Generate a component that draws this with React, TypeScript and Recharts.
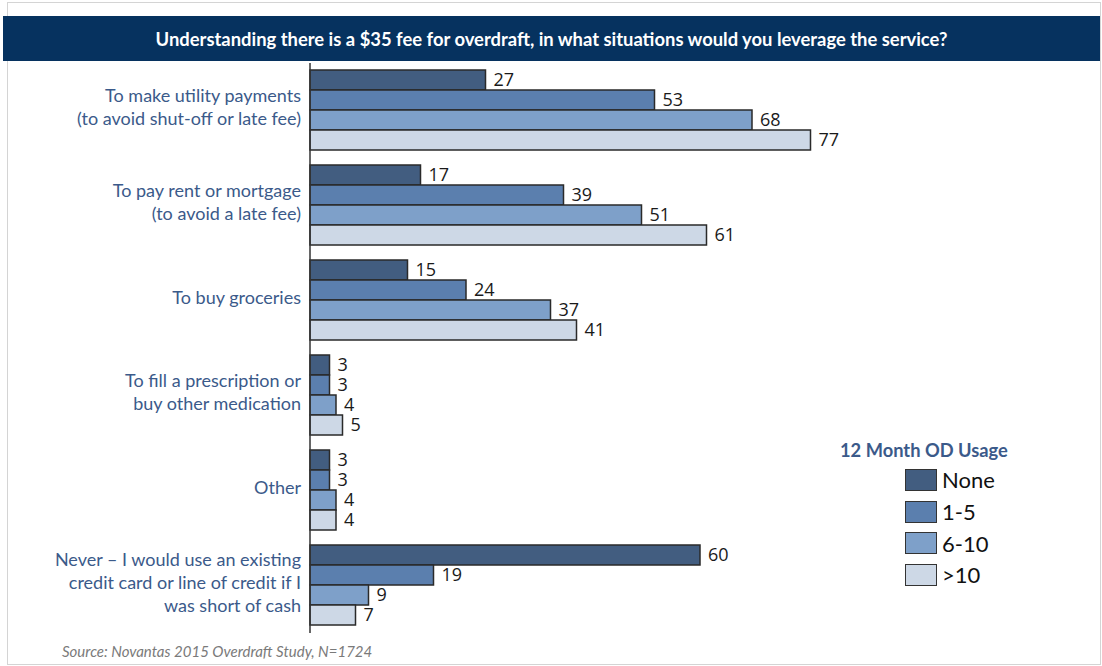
import React from "react";
import { BarChart, Bar, XAxis, YAxis, LabelList } from "recharts";

const categories = [
  "To make utility payments\n(to avoid shut-off or late fee)",
  "To pay rent or mortgage\n(to avoid a late fee)",
  "To buy groceries",
  "To fill a prescription or\nbuy other medication",
  "Other",
  "Never – I would use an existing\ncredit card or line of credit if I\nwas short of cash",
];

const noneValues = [27, 17, 15, 3, 3, 60];
const oneToFive = [53, 39, 24, 3, 3, 19];
const sixToTen = [68, 51, 37, 4, 4, 9];
const overTen = [77, 61, 41, 5, 4, 7];

const seriesNames = ["None", "1-5", "6-10", ">10"];
const seriesKeys = ["none", "oneToFive", "sixToTen", "overTen"];
const COLORS = ["#425d80", "#5b7fae", "#7ea0c9", "#cdd8e6"];

const data = categories.map((c, i) => ({
  category: c,
  none: noneValues[i],
  oneToFive: oneToFive[i],
  sixToTen: sixToTen[i],
  overTen: overTen[i],
}));

const LABEL_COLOR = "#3b5a8a";

function CategoryTick(props: any) {
  const { y, payload } = props;
  const lines: string[] = String(payload.value).split("\n");
  const lh = 23;
  const start = y - ((lines.length - 1) * lh) / 2 - 3;
  return (
    <text
      x={301}
      y={start}
      textAnchor="end"
      fill={LABEL_COLOR}
      fontSize={18}
      fontFamily="Lato, sans-serif"
    >
      {lines.map((l, i) => (
        <tspan key={i} x={301} y={start + i * lh} dy="0.35em">
          {l}
        </tspan>
      ))}
    </text>
  );
}

function LegendBox() {
  return (
    <div
      style={{
        position: "absolute",
        left: 840,
        top: 439,
        width: 220,
        fontFamily: "Lato, sans-serif",
      }}
    >
      <div
        style={{
          color: LABEL_COLOR,
          fontWeight: 700,
          fontSize: 18.3,
          marginBottom: 3,
        }}
      >
        12 Month OD Usage
      </div>
      {seriesNames.map((n, i) => (
        <div
          key={n}
          style={{ display: "flex", alignItems: "center", height: 31.7, marginLeft: 65 }}
        >
          <div
            style={{
              width: 30,
              height: 20,
              background: COLORS[i],
              border: "1.5px solid #333",
              marginRight: 5,
            }}
          />
          <span style={{ fontSize: 22, color: "#111" }}>{n}</span>
        </div>
      ))}
    </div>
  );
}

export default function App() {
  return (
    <div
      style={{
        position: "absolute",
        left: 0,
        top: 0,
        width: 1102,
        height: 666,
        background: "#fff",
        overflow: "hidden",
      }}
    >
      <div
        style={{
          position: "absolute",
          left: 7,
          top: 2,
          width: 1092,
          height: 661,
          border: "1px solid #d4d4d4",
        }}
      />
      <div
        style={{
          position: "absolute",
          left: 3,
          top: 16,
          width: 1097,
          height: 45,
          background: "#06325f",
          color: "#fff",
          fontFamily: "Lato, sans-serif",
          fontWeight: 700,
          fontSize: 18.4,
          display: "flex",
          alignItems: "center",
          justifyContent: "center",
        }}
      >
        Understanding there is a $35 fee for overdraft, in what situations would you leverage the service?
      </div>
      <div style={{ position: "absolute", left: 0, top: 0 }}>
        <BarChart
          width={1102}
          height={666}
          data={data}
          layout="vertical"
          margin={{ top: 63, right: 142, bottom: 33, left: 0 }}
          barCategoryGap={7}
          barGap={0}
        >
          <XAxis type="number" domain={[0, 100]} hide />
          <YAxis
            type="category"
            dataKey="category"
            width={310}
            tickLine={false}
            axisLine={{ stroke: "#333", strokeWidth: 1.5 }}
            tick={<CategoryTick />}
            interval={0}
          />
          {seriesKeys.map((k, i) => (
            <Bar
              key={k}
              dataKey={k}
              name={seriesNames[i]}
              fill={COLORS[i]}
              stroke="#2a2a2a"
              strokeWidth={1.5}
              isAnimationActive={false}
            >
              <LabelList
                dataKey={k}
                position="right"
                offset={8}
                fill="#1a1a1a"
                fontSize={18}
                fontFamily="'Open Sans', sans-serif"
              />
            </Bar>
          ))}
        </BarChart>
      </div>
      <LegendBox />
      <div
        style={{
          position: "absolute",
          left: 62,
          top: 642,
          fontFamily: "Lato, sans-serif",
          fontStyle: "italic",
          fontSize: 15,
          color: "#7a7a7a",
        }}
      >
        Source: Novantas 2015 Overdraft Study, N=1724
      </div>
    </div>
  );
}
